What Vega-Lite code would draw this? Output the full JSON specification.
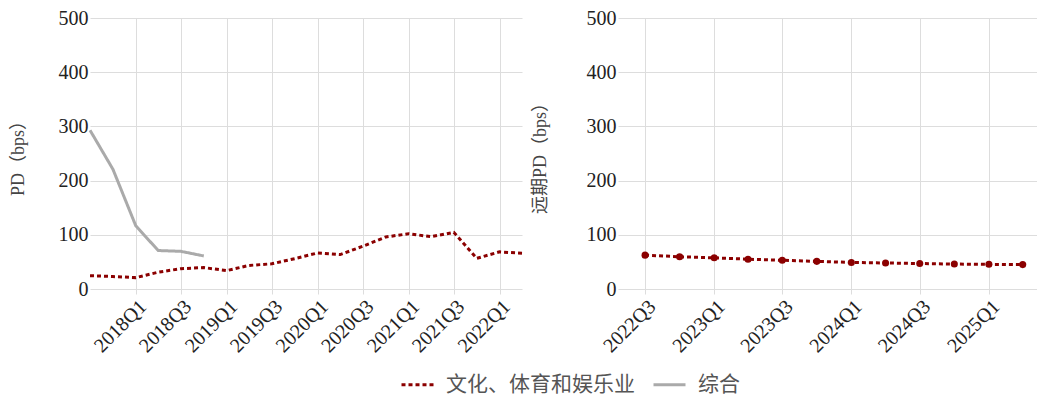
{
  "$schema": "https://vega.github.io/schema/vega-lite/v6.json",
  "padding": {"left": 9, "top": 8, "right": 0, "bottom": 6},
  "spacing": 3,
  "datasets": {
    "hist": [
      {"date": "2017/07/01", "series": "文化、体育和娱乐业", "pd": 24.5},
      {"date": "2017/10/01", "series": "文化、体育和娱乐业", "pd": 23},
      {"date": "2018/01/01", "series": "文化、体育和娱乐业", "pd": 21},
      {"date": "2018/04/01", "series": "文化、体育和娱乐业", "pd": 31},
      {"date": "2018/07/01", "series": "文化、体育和娱乐业", "pd": 37.5},
      {"date": "2018/10/01", "series": "文化、体育和娱乐业", "pd": 39.5},
      {"date": "2019/01/01", "series": "文化、体育和娱乐业", "pd": 34},
      {"date": "2019/04/01", "series": "文化、体育和娱乐业", "pd": 43.5},
      {"date": "2019/07/01", "series": "文化、体育和娱乐业", "pd": 46.5},
      {"date": "2019/10/01", "series": "文化、体育和娱乐业", "pd": 56},
      {"date": "2020/01/01", "series": "文化、体育和娱乐业", "pd": 66.5},
      {"date": "2020/04/01", "series": "文化、体育和娱乐业", "pd": 63.5},
      {"date": "2020/07/01", "series": "文化、体育和娱乐业", "pd": 79},
      {"date": "2020/10/01", "series": "文化、体育和娱乐业", "pd": 96},
      {"date": "2021/01/01", "series": "文化、体育和娱乐业", "pd": 102},
      {"date": "2021/04/01", "series": "文化、体育和娱乐业", "pd": 96.5},
      {"date": "2021/07/01", "series": "文化、体育和娱乐业", "pd": 104.5},
      {"date": "2021/10/01", "series": "文化、体育和娱乐业", "pd": 56.5},
      {"date": "2022/01/01", "series": "文化、体育和娱乐业", "pd": 68.5},
      {"date": "2022/04/01", "series": "文化、体育和娱乐业", "pd": 66},
      {"date": "2017/07/01", "series": "综合", "pd": 293},
      {"date": "2017/10/01", "series": "综合", "pd": 221},
      {"date": "2018/01/01", "series": "综合", "pd": 116.5},
      {"date": "2018/04/01", "series": "综合", "pd": 71},
      {"date": "2018/07/01", "series": "综合", "pd": 69.5},
      {"date": "2018/10/01", "series": "综合", "pd": 61}
    ],
    "fwd": [
      {"date": "2022/07/01", "series": "文化、体育和娱乐业", "pd": 62.5},
      {"date": "2022/10/01", "series": "文化、体育和娱乐业", "pd": 59.5},
      {"date": "2023/01/01", "series": "文化、体育和娱乐业", "pd": 57.5},
      {"date": "2023/04/01", "series": "文化、体育和娱乐业", "pd": 55},
      {"date": "2023/07/01", "series": "文化、体育和娱乐业", "pd": 53},
      {"date": "2023/10/01", "series": "文化、体育和娱乐业", "pd": 51},
      {"date": "2024/01/01", "series": "文化、体育和娱乐业", "pd": 49},
      {"date": "2024/04/01", "series": "文化、体育和娱乐业", "pd": 48},
      {"date": "2024/07/01", "series": "文化、体育和娱乐业", "pd": 47},
      {"date": "2024/10/01", "series": "文化、体育和娱乐业", "pd": 46},
      {"date": "2025/01/01", "series": "文化、体育和娱乐业", "pd": 45.5},
      {"date": "2025/04/01", "series": "文化、体育和娱乐业", "pd": 45}
    ]
  },
  "config": {
    "view": {"stroke": null},
    "font": "'Liberation Serif', 'Noto Sans CJK SC', serif",
    "axis": {
      "labelFont": "'Liberation Serif', 'Noto Sans CJK SC', serif",
      "labelFontSize": 20,
      "labelColor": "#222222",
      "labelOverlap": false,
      "titleFont": "'Liberation Serif', 'Noto Sans CJK SC', serif",
      "titleFontSize": 18,
      "titleFontWeight": "normal",
      "titleColor": "#444444",
      "gridColor": "#dddddd",
      "gridWidth": 1,
      "domain": false,
      "tickColor": "#dddddd",
      "tickSize": 5
    },
    "axisY": {"ticks": false, "labelPadding": 2},
    "legend": {
      "labelFont": "'Noto Sans CJK SC', sans-serif",
      "labelFontSize": 21,
      "labelColor": "#555555",
      "labelLimit": 0,
      "symbolType": "stroke",
      "symbolSize": 1024,
      "symbolStrokeWidth": 3,
      "columnPadding": 12,
      "labelOffset": 11
    }
  },
  "hconcat": [
    {
      "width": 432,
      "height": 271,
      "data": {"name": "hist"},
      "mark": {"type": "line", "strokeWidth": 3},
      "encoding": {
        "x": {
          "field": "date",
          "type": "temporal",
          "scale": {"domain": [{"year": 2017, "month": 7, "date": 1}, {"year": 2022, "month": 4, "date": 1}], "nice": false},
          "axis": {
            "title": null,
            "format": "%YQ%q",
            "labelAngle": -45,
            "values": [
              {"year": 2018, "month": 1, "date": 1},
              {"year": 2018, "month": 7, "date": 1},
              {"year": 2019, "month": 1, "date": 1},
              {"year": 2019, "month": 7, "date": 1},
              {"year": 2020, "month": 1, "date": 1},
              {"year": 2020, "month": 7, "date": 1},
              {"year": 2021, "month": 1, "date": 1},
              {"year": 2021, "month": 7, "date": 1},
              {"year": 2022, "month": 1, "date": 1}
            ]
          }
        },
        "y": {
          "field": "pd",
          "type": "quantitative",
          "scale": {"domain": [0, 500]},
          "axis": {"title": "PD（bps）", "values": [0, 100, 200, 300, 400, 500], "titlePadding": 31}
        },
        "color": {
          "field": "series",
          "type": "nominal",
          "scale": {"domain": ["文化、体育和娱乐业", "综合"], "range": ["#8b0000", "#aaaaaa"]},
          "legend": {"title": null, "orient": "none", "direction": "horizontal", "legendX": 310, "legendY": 349}
        },
        "strokeDash": {
          "field": "series",
          "type": "nominal",
          "scale": {"domain": ["文化、体育和娱乐业", "综合"], "range": [[4, 3], [1, 0]]},
          "legend": {"title": null, "orient": "none", "direction": "horizontal", "legendX": 310, "legendY": 349}
        }
      }
    },
    {
      "width": 419,
      "height": 271,
      "data": {"name": "fwd"},
      "encoding": {
        "x": {
          "field": "date",
          "type": "temporal",
          "scale": {"domain": [{"year": 2022, "month": 4, "date": 20}, {"year": 2025, "month": 5, "date": 9}], "nice": false},
          "axis": {
            "title": null,
            "format": "%YQ%q",
            "labelAngle": -45,
            "values": [
              {"year": 2022, "month": 7, "date": 1},
              {"year": 2023, "month": 1, "date": 1},
              {"year": 2023, "month": 7, "date": 1},
              {"year": 2024, "month": 1, "date": 1},
              {"year": 2024, "month": 7, "date": 1},
              {"year": 2025, "month": 1, "date": 1}
            ]
          }
        },
        "y": {
          "field": "pd",
          "type": "quantitative",
          "scale": {"domain": [0, 500]},
          "axis": {"title": "远期PD（bps）", "values": [0, 100, 200, 300, 400, 500], "titlePadding": 37}
        },
        "color": {
          "field": "series",
          "type": "nominal",
          "scale": {"domain": ["文化、体育和娱乐业", "综合"], "range": ["#8b0000", "#aaaaaa"]}
        }
      },
      "layer": [
        {
          "mark": {"type": "line", "strokeWidth": 3},
          "encoding": {
            "strokeDash": {
              "field": "series",
              "type": "nominal",
              "scale": {"domain": ["文化、体育和娱乐业", "综合"], "range": [[4, 3], [1, 0]]}
            }
          }
        },
        {
          "mark": {"type": "point", "filled": true, "size": 50, "opacity": 1},
          "encoding": {}
        }
      ]
    }
  ],
  "resolve": {"scale": {"x": "independent", "y": "independent", "color": "shared", "strokeDash": "shared"}}
}
